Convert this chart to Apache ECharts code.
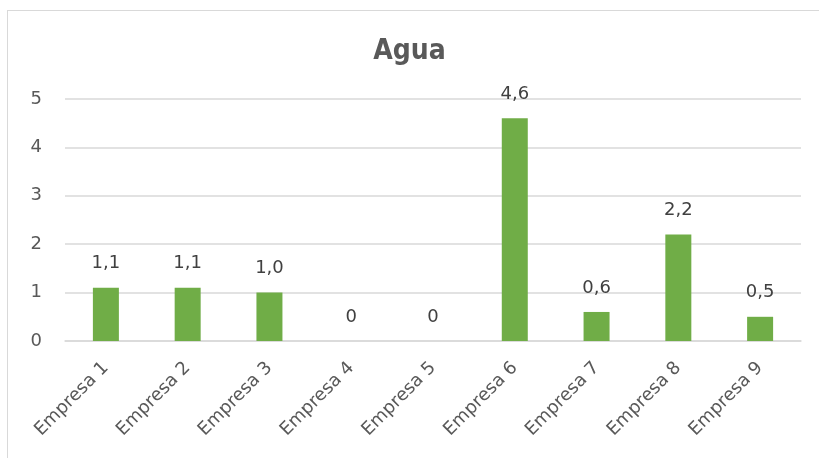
<!DOCTYPE html>
<html>
<head>
<meta charset="utf-8">
<script src="https://cdn.jsdelivr.net/npm/echarts@6/dist/echarts.min.js"></script>
<style>
  html, body { margin: 0; padding: 0; background: #fff; }
  #frame {
    position: absolute; left: 7px; top: 10px; width: 840px; height: 470px;
    border: 1px solid #d9d9d9; box-sizing: border-box;
  }
  #chart { position: absolute; left: 0; top: 0; width: 819px; height: 458px; }
</style>
</head>
<body>
<div id="frame"></div>
<div id="chart"></div>
<script>
// datos
var categorias = ['Empresa 1', 'Empresa 2', 'Empresa 3', 'Empresa 4', 'Empresa 5',
                  'Empresa 6', 'Empresa 7', 'Empresa 8', 'Empresa 9'];
var valores = [1.1, 1.1, 1.0, 0, 0, 4.6, 0.6, 2.2, 0.5];
var etiquetas = ['1,1', '1,1', '1,0', '0', '0', '4,6', '0,6', '2,2', '0,5'];

var chart = echarts.init(document.getElementById('chart'));
var option = {
  animation: false,
  textStyle: { fontFamily: 'DejaVu Sans' },
  title: {
    text: 'Agua',
    left: 'center',
    top: 33,
    textStyle: { fontFamily: 'DejaVu Sans Condensed', fontWeight: 'bold', fontSize: 28, color: '#595959' }
  },
  grid: { left: 65, right: 18, top: 99, bottom: 117 },
  xAxis: {
    type: 'category',
    data: categorias,
    axisLine: { lineStyle: { color: '#d9d9d9', width: 1.5 } },
    axisTick: { show: false },
    axisLabel: {
      rotate: 45,
      margin: 24,
      fontSize: 18,
      color: '#595959',
      interval: 0
    }
  },
  yAxis: {
    type: 'value',
    min: 0,
    max: 5,
    interval: 1,
    axisLine: { show: false },
    axisTick: { show: false },
    axisLabel: { fontSize: 18, color: '#595959', margin: 23 },
    splitLine: { lineStyle: { color: '#d9d9d9', width: 1.5 } }
  },
  series: [{
    type: 'bar',
    data: valores,
    barWidth: 26,
    itemStyle: { color: '#70ad47' },
    label: {
      show: true,
      position: 'top',
      distance: 15,
      fontSize: 18,
      color: '#404040',
      formatter: function (p) { return etiquetas[p.dataIndex]; }
    }
  }]
};
chart.setOption(option);
</script>
</body>
</html>
